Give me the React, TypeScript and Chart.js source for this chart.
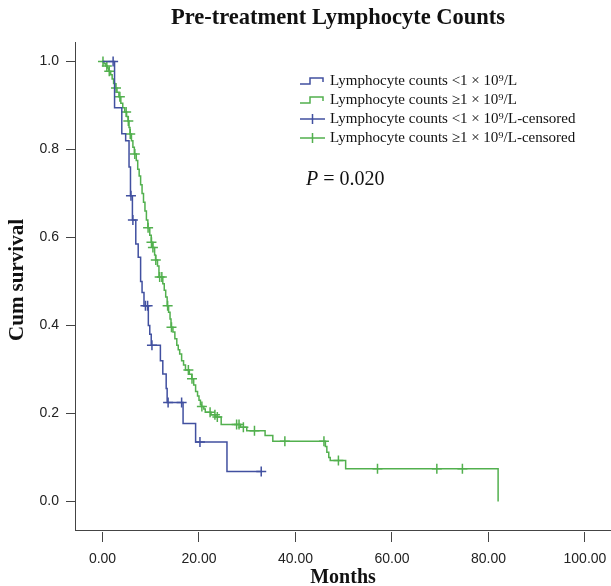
import React, { useEffect, useRef } from 'react';
import { Chart, registerables } from 'chart.js';

Chart.register(...registerables);

// ---- Data ----
const xTickValues = [0, 20, 40, 60, 80, 100];
const yTickValues = [0, 0.2, 0.4, 0.6, 0.8, 1.0];

// Lymphocyte counts < 1 x 10^9/L : event times (months) and survival after each step
const lowTimes = [0, 2.5, 4.0, 4.8, 5.5, 5.8, 6.2, 6.9, 7.4, 7.9, 8.2, 8.6, 9.5, 9.8, 10.1, 12.0, 12.5, 13.2, 13.4, 16.7, 19.3, 25.8, 32.9];
const lowSurv = [1.0, 0.895, 0.836, 0.82, 0.76, 0.695, 0.64, 0.585, 0.555, 0.5, 0.475, 0.445, 0.4, 0.38, 0.355, 0.32, 0.29, 0.257, 0.225, 0.177, 0.135, 0.068, 0.068];
const lowCensored = [2.2, 5.9, 6.3, 8.9, 9.35, 10.25, 13.6, 16.4, 20.2, 32.9];

// Lymphocyte counts >= 1 x 10^9/L
const highTimes = [0, 0.3, 0.7, 1.0, 1.3, 1.7, 2.0, 2.3, 2.6, 3.0, 3.4, 3.8, 4.2, 4.6, 5.0, 5.3, 5.5, 5.7, 6.0, 6.3, 6.6, 7.0, 7.3, 7.6, 7.9, 8.2, 8.5, 8.8, 9.1, 9.4, 9.8, 10.1, 10.4, 10.8, 11.0, 11.4, 11.7, 12.5, 12.8, 13.1, 13.4, 13.7, 14.0, 14.2, 14.6, 15.0, 15.4, 15.7, 16.0, 16.4, 16.8, 17.2, 18.0, 18.5, 18.9, 19.3, 19.7, 20.0, 20.3, 20.5, 21.0, 21.3, 22.5, 23.5, 24.6, 28.6, 29.9, 33.7, 35.3, 46.2, 46.5, 46.9, 47.2, 50.4, 82.0];
const highSurv = [1.0, 0.995, 0.99, 0.985, 0.978, 0.97, 0.96, 0.95, 0.94, 0.93, 0.92, 0.905, 0.895, 0.885, 0.875, 0.865, 0.85, 0.835, 0.82, 0.805, 0.79, 0.775, 0.755, 0.74, 0.72, 0.7, 0.68, 0.66, 0.64, 0.622, 0.605, 0.589, 0.577, 0.56, 0.549, 0.535, 0.51, 0.495, 0.48, 0.465, 0.445, 0.43, 0.415, 0.396, 0.385, 0.37, 0.355, 0.345, 0.335, 0.32, 0.31, 0.299, 0.289, 0.279, 0.265, 0.25, 0.24, 0.23, 0.22, 0.216, 0.21, 0.203, 0.197, 0.192, 0.175, 0.169, 0.161, 0.15, 0.137, 0.125, 0.112, 0.1, 0.093, 0.0743, 0];
const highCensored = [0.1, 0.9, 1.4, 2.8, 3.6, 4.9, 5.35, 5.75, 6.7, 9.45, 10.15, 10.45, 11.05, 11.85, 12.3, 13.5, 14.3, 17.8, 18.55, 20.6, 22.3, 23.3, 23.8, 27.8, 28.3, 29.2, 31.5, 37.8, 45.9, 48.9, 57.0, 69.3, 74.6];

const seriesLabels = [
  'Lymphocyte counts <1 × 10⁹/L',
  'Lymphocyte counts ≥1 × 10⁹/L',
  'Lymphocyte counts <1 × 10⁹/L-censored',
  'Lymphocyte counts ≥1 × 10⁹/L-censored',
];
const titleText = 'Pre-treatment Lymphocyte Counts';
const xTitle = 'Months';
const yTitle = 'Cum survival';
const pValueText = '0.020';

const BLUE = '#4150a0';
const GREEN = '#52b04e';
const SERIF = '"Liberation Serif", "Times New Roman", serif';
const SANS = '"Liberation Sans", Arial, sans-serif';

function survivalAt(times: number[], surv: number[], t: number): number {
  let v = surv[0];
  for (let i = 0; i < times.length; i++) {
    if (times[i] <= t) v = surv[i];
  }
  return v;
}

const overlayPlugin = {
  id: 'overlay',
  afterDraw(chart: any) {
    const ctx = chart.ctx as CanvasRenderingContext2D;
    const { left, top, bottom } = chart.chartArea;
    ctx.save();
    // axis lines
    ctx.strokeStyle = '#444';
    ctx.lineWidth = 1;
    ctx.beginPath();
    ctx.moveTo(left + 0.5, top);
    ctx.lineTo(left + 0.5, bottom - 1.5);
    ctx.moveTo(left, bottom - 1.5);
    ctx.lineTo(chart.width, bottom - 1.5);
    ctx.stroke();

    ctx.fillStyle = '#111';
    // title
    ctx.font = `bold 22.5px ${SERIF}`;
    ctx.textAlign = 'center';
    ctx.textBaseline = 'middle';
    ctx.fillText(titleText, 338, 18);
    // x title
    ctx.font = `bold 20px ${SERIF}`;
    ctx.fillText(xTitle, 343, 578);
    // y title
    ctx.save();
    ctx.translate(18, 280);
    ctx.rotate(-Math.PI / 2);
    ctx.font = `bold 21px ${SERIF}`;
    ctx.fillText(yTitle, 0, 0);
    ctx.restore();

    // legend
    const rows = [81, 100, 119, 138];
    const colors = [BLUE, GREEN, BLUE, GREEN];
    ctx.font = `15px ${SERIF}`;
    ctx.textAlign = 'left';
    ctx.textBaseline = 'middle';
    rows.forEach((y, i) => {
      ctx.strokeStyle = colors[i];
      ctx.lineWidth = 1.5;
      ctx.beginPath();
      if (i < 2) {
        ctx.moveTo(300, y + 3);
        ctx.lineTo(310, y + 3);
        ctx.lineTo(310, y - 3);
        ctx.lineTo(323, y - 3);
        ctx.lineTo(323, y + 1);
      } else {
        ctx.moveTo(300, y);
        ctx.lineTo(325, y);
        ctx.moveTo(312.5, y - 5);
        ctx.lineTo(312.5, y + 5);
      }
      ctx.stroke();
      ctx.fillStyle = '#111';
      ctx.fillText(seriesLabels[i], 330, y);
    });

    // P value
    ctx.font = `italic 20px ${SERIF}`;
    ctx.fillText('P', 306, 180);
    const pw = ctx.measureText('P').width;
    ctx.font = `20px ${SERIF}`;
    ctx.fillText(' = ' + pValueText, 306 + pw, 180);
    ctx.restore();
  },
};

export default function App() {
  const ref = useRef<HTMLCanvasElement | null>(null);
  useEffect(() => {
    if (!ref.current) return;
    const lowLine = lowTimes.map((t, i) => ({ x: t, y: lowSurv[i] }));
    const highLine = highTimes.map((t, i) => ({ x: t, y: highSurv[i] }));
    const lowCens = lowCensored.map((t) => ({ x: t, y: survivalAt(lowTimes, lowSurv, t) }));
    const highCens = highCensored.map((t) => ({ x: t, y: survivalAt(highTimes, highSurv, t) }));
    const chart = new Chart(ref.current, {
      type: 'scatter',
      data: {
        datasets: [
          { label: seriesLabels[0], data: lowLine, showLine: true, stepped: true, borderColor: BLUE, borderWidth: 1.5, pointRadius: 0, fill: false },
          { label: seriesLabels[1], data: highLine, showLine: true, stepped: true, borderColor: GREEN, borderWidth: 1.5, pointRadius: 0, fill: false },
          { label: seriesLabels[2], data: lowCens, showLine: false, pointStyle: 'cross', pointRadius: 5, borderColor: BLUE, borderWidth: 1.5 },
          { label: seriesLabels[3], data: highCens, showLine: false, pointStyle: 'cross', pointRadius: 5, borderColor: GREEN, borderWidth: 1.5 },
        ],
      } as any,
      options: {
        responsive: false,
        animation: false,
        layout: { autoPadding: false, padding: { top: 42, left: 0, right: 0, bottom: 0 } },
        plugins: { legend: { display: false }, tooltip: { enabled: false }, title: { display: false } },
        scales: {
          x: {
            type: 'linear',
            min: -5.7,
            max: 105.4,
            border: { display: false },
            grid: { drawOnChartArea: false, drawTicks: true, tickLength: 10, color: '#444', lineWidth: 1 },
            ticks: { padding: 9, color: '#222', font: { family: SANS, size: 14 }, callback: (v: any) => Number(v).toFixed(2) },
            afterBuildTicks: (scale: any) => { scale.ticks = xTickValues.map((v) => ({ value: v })); },
            afterFit: (scale: any) => { scale.height = 54; scale.paddingLeft = 0; scale.paddingRight = 0; },
          },
          y: {
            type: 'linear',
            min: -0.0693,
            max: 1.0443,
            border: { display: false },
            grid: { drawOnChartArea: false, drawTicks: true, tickLength: 9, color: '#444', lineWidth: 1 },
            ticks: { padding: 7, color: '#222', font: { family: SANS, size: 14 }, callback: (v: any) => Number(v).toFixed(1) },
            afterBuildTicks: (scale: any) => { scale.ticks = yTickValues.map((v) => ({ value: v })); },
            afterFit: (scale: any) => { scale.width = 75; scale.paddingTop = 0; scale.paddingBottom = 0; },
          },
        },
      } as any,
      plugins: [overlayPlugin],
    });
    return () => chart.destroy();
  }, []);
  return (
    <div style={{ position: 'fixed', left: 0, top: 0, width: 611, height: 586, background: '#fff' }}>
      <canvas ref={ref} width={611} height={586} />
    </div>
  );
}
